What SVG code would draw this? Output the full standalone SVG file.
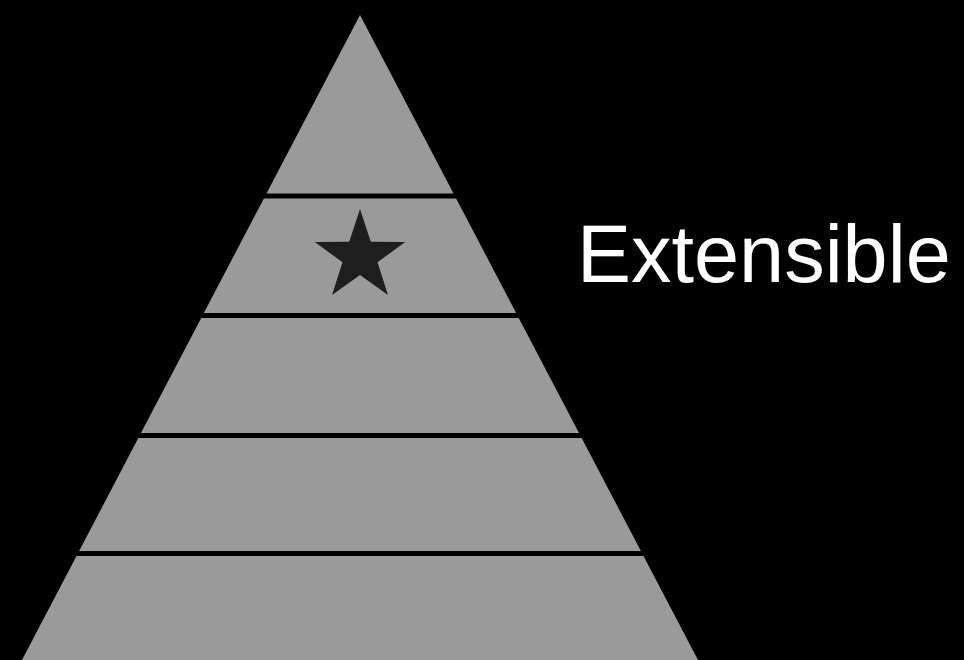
<svg xmlns="http://www.w3.org/2000/svg" width="964" height="660" viewBox="0 0 964 660">
<style>
.band{stroke:#000;stroke-width:5}
.label{font-family:"Liberation Sans",Arial,sans-serif;font-size:81px;fill:#fff}
</style>
<rect width="964" height="660" fill="#000"/>
<g id="pyramid">
<polygon points="360,15 698,660 22,660" fill="#9a9a9a"/>
</g>
<g id="connectors">
<line class="band" x1="200" y1="196" x2="520" y2="196"/>
<line class="band" x1="130" y1="315.5" x2="590" y2="315.5"/>
<line class="band" x1="70" y1="435.5" x2="650" y2="435.5"/>
<line class="band" x1="0" y1="553.5" x2="710" y2="553.5"/>
</g>
<g id="star">
<polygon fill="#1e1e1e" points="360,209 370.8,241.7 405.3,241.9 377.5,262.3 388,295 360,275 332,295 342.5,262.3 314.7,241.9 349.2,241.7"/>
</g>
<g id="label">
<text class="label" x="577" y="282">Extensible</text>
</g>
</svg>
